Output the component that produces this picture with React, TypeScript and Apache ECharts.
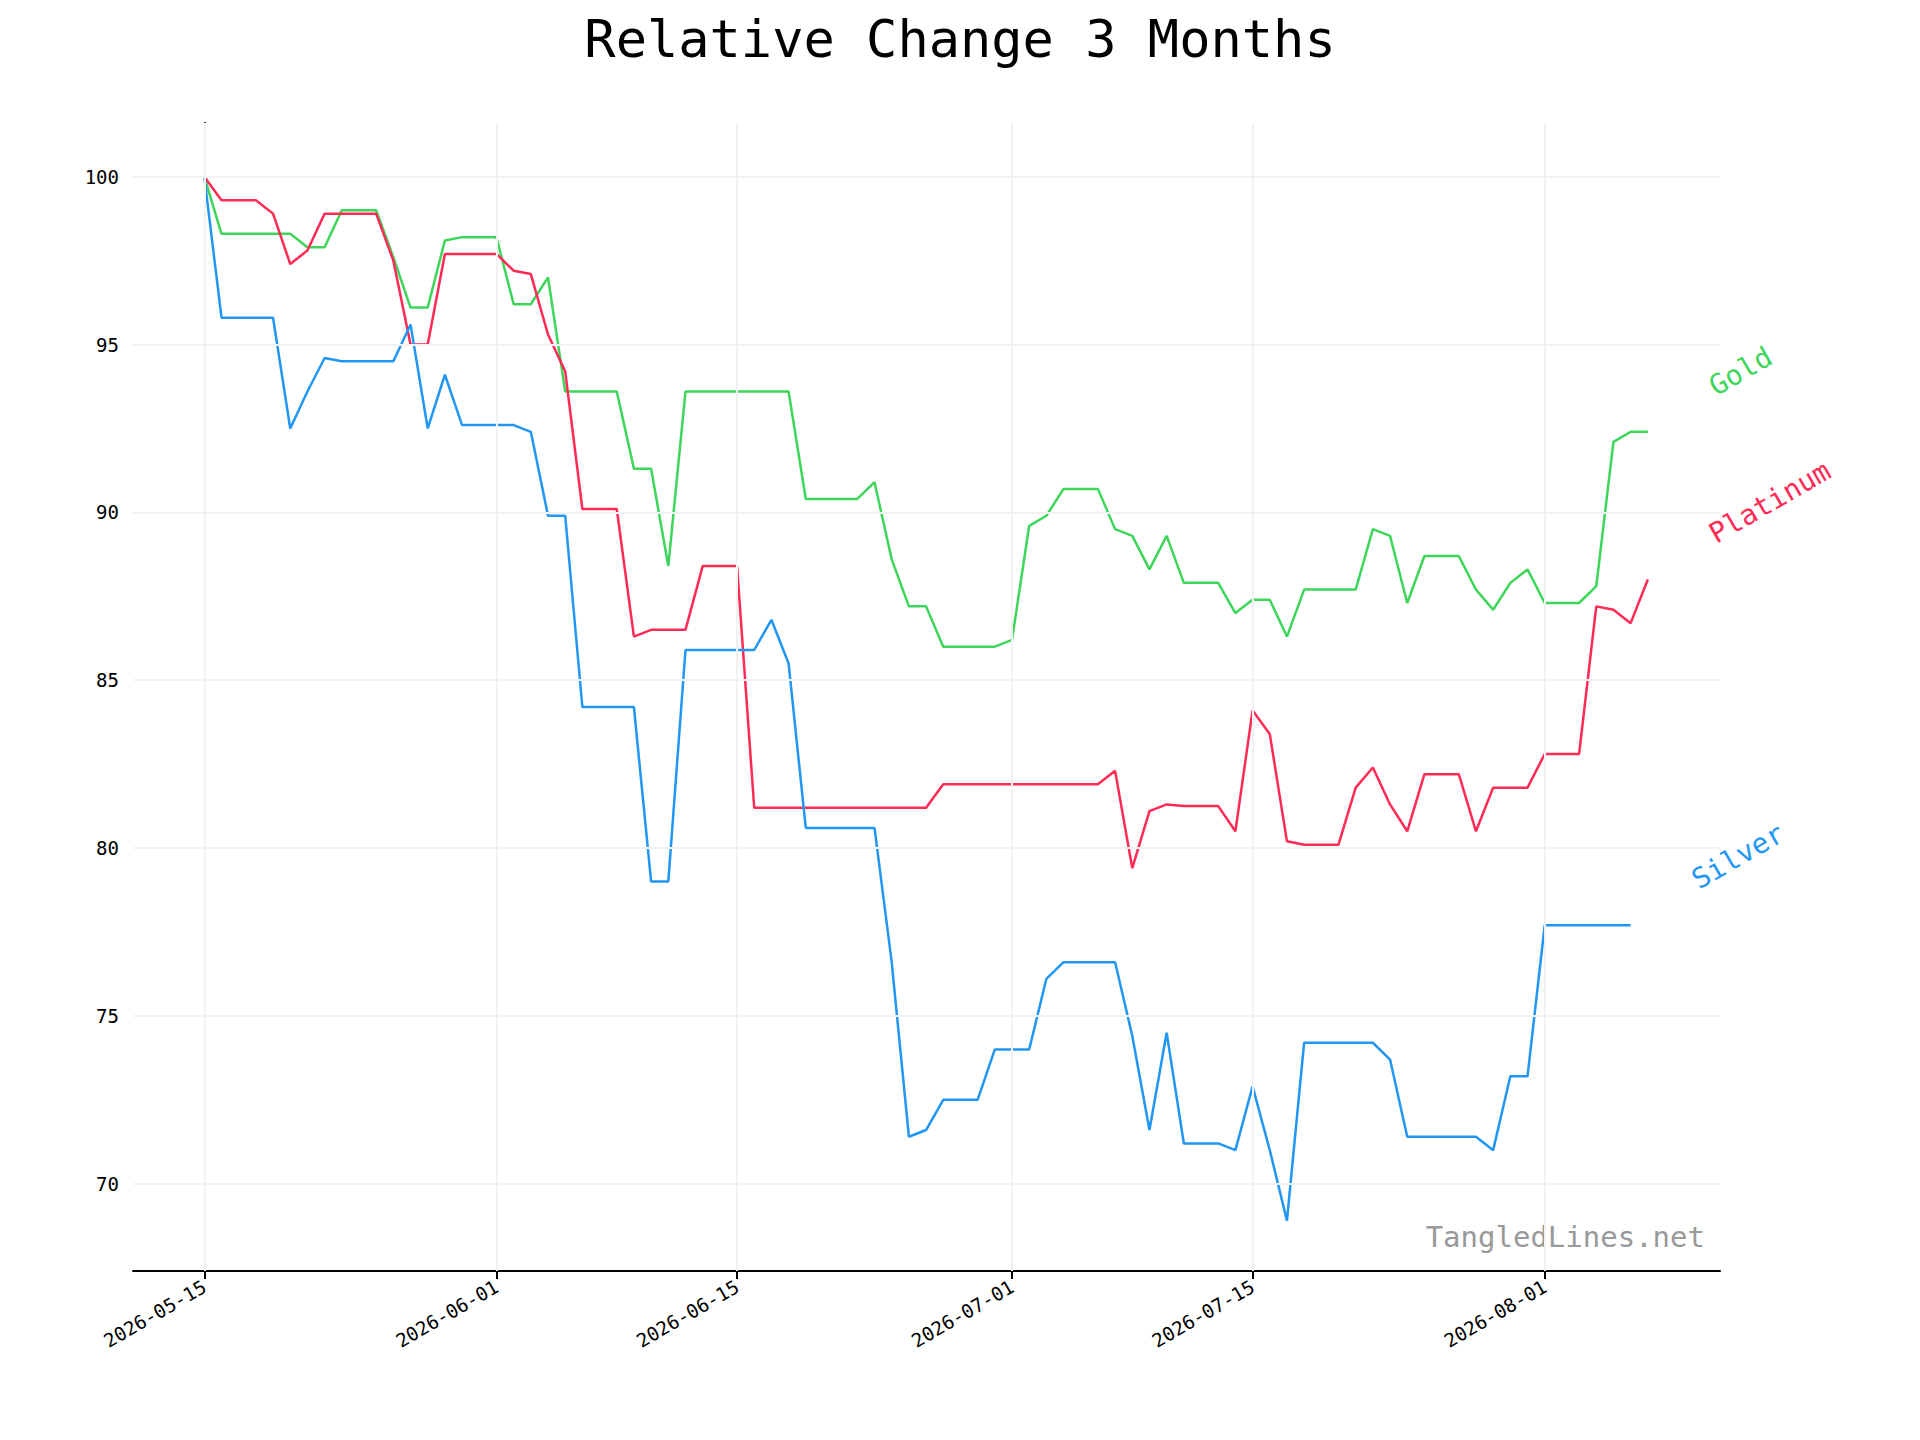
import React, { useEffect, useRef } from 'react';
import * as echarts from 'echarts';

const startDate = Date.UTC(2026, 4, 15);
const DAY = 86400000;

const gold = [
  100, 98.3, 98.3, 98.3, 98.3, 98.3, 97.9, 97.9, 99.0, 99.0, 99.0, 97.6, 96.1, 96.1, 98.1, 98.2, 98.2, 98.2,
  96.2, 96.2, 97.0, 93.6, 93.6, 93.6, 93.6, 91.3, 91.3, 88.4, 93.6, 93.6, 93.6, 93.6, 93.6, 93.6, 93.6,
  90.4, 90.4, 90.4, 90.4, 90.9, 88.6, 87.2, 87.2, 86.0, 86.0, 86.0, 86.0, 86.2, 89.6, 89.9, 90.7, 90.7, 90.7,
  89.5, 89.3, 88.3, 89.3, 87.9, 87.9, 87.9, 87.0, 87.4, 87.4, 86.3, 87.7, 87.7, 87.7, 87.7, 89.5, 89.3,
  87.3, 88.7, 88.7, 88.7, 87.7, 87.1, 87.9, 88.3, 87.3, 87.3, 87.3, 87.8, 92.1, 92.4, 92.4,
];
const platinum = [
  100, 99.3, 99.3, 99.3, 98.9, 97.4, 97.8, 98.9, 98.9, 98.9, 98.9, 97.5, 95.0, 95.0, 97.7, 97.7, 97.7, 97.7,
  97.2, 97.1, 95.3, 94.2, 90.1, 90.1, 90.1, 86.3, 86.5, 86.5, 86.5, 88.4, 88.4, 88.4, 81.2, 81.2, 81.2,
  81.2, 81.2, 81.2, 81.2, 81.2, 81.2, 81.2, 81.2, 81.9, 81.9, 81.9, 81.9, 81.9, 81.9, 81.9, 81.9, 81.9, 81.9,
  82.3, 79.4, 81.1, 81.3, 81.25, 81.25, 81.25, 80.5, 84.1, 83.4, 80.2, 80.1, 80.1, 80.1, 81.8, 82.4, 81.3,
  80.5, 82.2, 82.2, 82.2, 80.5, 81.8, 81.8, 81.8, 82.8, 82.8, 82.8, 87.2, 87.1, 86.7, 88.0,
];
const silver = [
  100, 95.8, 95.8, 95.8, 95.8, 92.5, 93.6, 94.6, 94.5, 94.5, 94.5, 94.5, 95.6, 92.5, 94.1, 92.6, 92.6, 92.6,
  92.6, 92.4, 89.9, 89.9, 84.2, 84.2, 84.2, 84.2, 79.0, 79.0, 85.9, 85.9, 85.9, 85.9, 85.9, 86.8, 85.5,
  80.6, 80.6, 80.6, 80.6, 80.6, 76.6, 71.4, 71.6, 72.5, 72.5, 72.5, 74.0, 74.0, 74.0, 76.1, 76.6, 76.6, 76.6,
  76.6, 74.4, 71.6, 74.5, 71.2, 71.2, 71.2, 71.0, 72.9, 71.0, 68.9, 74.2, 74.2, 74.2, 74.2, 74.2, 73.7,
  71.4, 71.4, 71.4, 71.4, 71.4, 71.0, 73.2, 73.2, 77.7, 77.7, 77.7, 77.7, 77.7, 77.7,
];
const tickDates = ['2026-05-15', '2026-06-01', '2026-06-15', '2026-07-01', '2026-07-15', '2026-08-01'];
const yTicks = [70, 75, 80, 85, 90, 95, 100];

const FONT = 'DejaVu Sans Mono';

// x is measured in days since startDate
const toPairs = (vals: number[]) => vals.map((v, i) => [i, v]);
const dayOf = (d: string) => Math.round((Date.parse(d + 'T00:00:00Z') - startDate) / DAY);

export default function App() {
  const ref = useRef<HTMLDivElement | null>(null);

  useEffect(() => {
    document.body.style.margin = '0';
    if (!ref.current) return;
    const chart = echarts.init(ref.current, null, { renderer: 'svg' });
    const tickDays = tickDates.map(dayOf);

    const mk = (name: string, data: number[], color: string) => ({
      name,
      type: 'line',
      data: toPairs(data),
      symbol: 'none',
      lineStyle: { color, width: 2.5 },
      itemStyle: { color },
      endLabel: {
        show: true,
        formatter: name,
        color,
        fontFamily: FONT,
        fontSize: 28,
        rotate: 30,
        offset: [70, -10],
      },
    });

    chart.setOption({
      animation: false,
      backgroundColor: '#fff',
      title: {
        text: 'Relative Change 3 Months',
        left: 'center',
        top: 8,
        textStyle: { fontFamily: FONT, fontSize: 52, fontWeight: 'normal', color: '#000' },
      },
      grid: { left: 133, right: 200, top: 123, bottom: 169 },
      xAxis: {
        type: 'value',
        min: -4.15,
        max: 88.2,
        axisLine: { lineStyle: { color: '#000', width: 2 } },
        axisTick: { customValues: tickDays, length: 8, lineStyle: { color: '#000', width: 2 } },
        axisLabel: {
          customValues: tickDays,
          formatter: (v: number) => new Date(startDate + Math.round(v) * DAY).toISOString().slice(0, 10),
          rotate: 30,
          color: '#000',
          fontFamily: FONT,
          fontSize: 19,
          margin: 14,
        },
        splitLine: { show: false },
      },
      yAxis: {
        type: 'value',
        min: 67.4,
        max: 101.6,
        axisLine: { show: true, lineStyle: { color: '#000', width: 2 } },
        axisTick: { show: true, customValues: yTicks, length: 8, lineStyle: { color: '#000', width: 2 } },
        axisLabel: { customValues: yTicks, color: '#000', fontFamily: FONT, fontSize: 19, margin: 14 },
        splitLine: { show: false },
      },
      graphic: [
        {
          type: 'text',
          right: 215,
          top: 1222,
          style: { text: 'TangledLines.net', fill: '#999', fontFamily: FONT, fontSize: 29 },
        },
      ],
      series: [
        {
          type: 'line',
          data: [],
          silent: true,
          markLine: {
            symbol: 'none',
            silent: true,
            label: { show: false },
            lineStyle: { color: '#f2f2f2', width: 2, type: 'solid' },
            data: [
              ...tickDays.map(t => ({ xAxis: t })),
              ...yTicks.map(v => ({ yAxis: v })),
            ],
          },
        },
        mk('Gold', gold, '#3ed65a'),
        mk('Platinum', platinum, '#ff2a55'),
        mk('Silver', silver, '#2196f3'),
      ],
    });
    return () => chart.dispose();
  }, []);

  return <div ref={ref} style={{ width: 1920, height: 1440 }} />;
}
